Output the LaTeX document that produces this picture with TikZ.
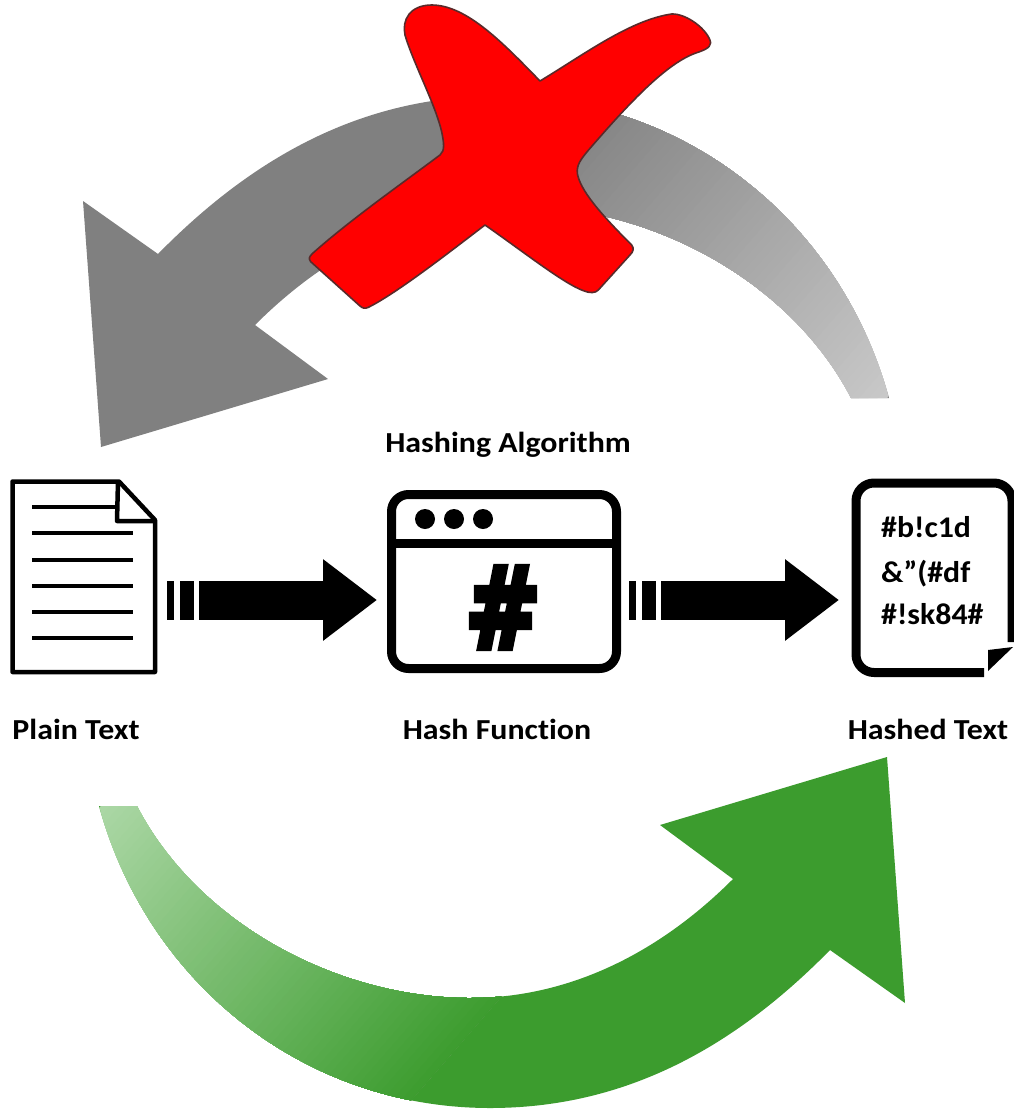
\documentclass[tikz,border=0pt]{standalone}
\usepackage{fontspec}
\setmainfont[Ligatures=NoCommon]{Carlito}
\newfontfamily\hashfont[BoldFeatures={FakeBold=6}]{DejaVu Sans}
\usetikzlibrary{arrows.meta}
\definecolor{grayfull}{HTML}{808080}
\definecolor{graylight}{HTML}{C8C8C8}
\definecolor{greenfull}{HTML}{3C9C2E}
\definecolor{greenlight}{HTML}{ABD7A5}
\definecolor{xedge}{HTML}{5A2A2A}
\newcommand{\curvedarrow}{
  (889,398) .. controls (840,220) and (683,96) .. (498,96)
  .. controls (370,96) and (260,150) .. (158,254)
  -- (83,201) -- (101,447) -- (328,379) -- (255,325)
  .. controls (330,250) and (420,206) .. (518,206)
  .. controls (650,206) and (790,280) .. (851,398)
  -- cycle}
\tikzset{
  labeltext/.style={font=\fontsize{29}{31}\selectfont\bfseries, anchor=base, inner sep=0pt, text=black, xscale=1.10},
  hashtext/.style={font=\fontsize{30}{32}\selectfont\bfseries, anchor=base west, inner sep=0pt, text=black, xscale=1.06},
  iconline/.style={draw=black, line join=round},
  blockarrow/.style={draw=black, line width=39pt, dash pattern=on 7pt off 6pt on 14pt off 5pt on 400pt,
    -{Triangle[length=54pt,width=78pt]}}
}
\begin{document}
\begin{tikzpicture}[x=1pt,y=-1pt]
\useasboundingbox (0,0) rectangle (1014,1111);
\fill[white] (0,0) rectangle (1014,1111);
% grey arrow: solid, then a fade laid in overlapping bands
\fill[grayfull] \curvedarrow;
\begin{scope}
  \clip \curvedarrow;
  \begin{scope}[shift={(888,397)},rotate=139]
    \foreach \i in {0,...,60} {
      \pgfmathsetmacro{\mixval}{100*\i/60}
      \fill[grayfull!\mixval!graylight] ({\i*7.1167},-700) rectangle (427,700);
    }
  \end{scope}
\end{scope}
% green arrow: the grey outline turned by 180 degrees
\begin{scope}[rotate around={180:(494,602)}]
  \fill[greenfull] \curvedarrow;
\end{scope}
\begin{scope}
  \clip[rotate around={180:(494,602)}] \curvedarrow;
  \begin{scope}[shift={(100,807)},rotate=-41]
    \foreach \i in {0,...,60} {
      \pgfmathsetmacro{\mixval}{100*\i/60}
      \fill[greenfull!\mixval!greenlight] ({\i*7.1167},-700) rectangle (427,700);
    }
  \end{scope}
\end{scope}
% red cross
\begin{scope}[x=0.33333pt,y=-0.33333pt,shift={(870,0)}]
\draw[fill=red, draw=xedge, line width=1.6pt, line join=round]
  (750,243) .. controls (880,165) and (1020,60) .. (1145,42)
  .. controls (1190,40) and (1255,90) .. (1262,128)
  .. controls (1262,145) and (1235,153) .. (1215,160)
  .. controls (1120,195) and (1000,330) .. (900,445)
  .. controls (870,480) and (860,495) .. (862,520)
  .. controls (870,570) and (930,640) .. (1025,735)
  .. controls (1033,745) and (1030,755) .. (1020,765)
  -- (925,870)
  .. controls (915,880) and (900,880) .. (880,872)
  .. controls (820,850) and (700,755) .. (585,675)
  .. controls (480,755) and (320,880) .. (235,922)
  .. controls (225,927) and (218,925) .. (210,918)
  -- (62,785)
  .. controls (55,775) and (58,770) .. (68,760)
  .. controls (180,660) and (330,555) .. (450,465)
  .. controls (465,452) and (462,430) .. (455,395)
  .. controls (435,310) and (370,190) .. (345,105)
  .. controls (335,60) and (360,15) .. (425,15)
  .. controls (530,15) and (640,130) .. (750,243)
  -- cycle;
\end{scope}
% plain document
\draw[iconline, line width=4.5pt] (119,481.5) -- (12.5,481.5) -- (12.5,672) -- (155,672) -- (155,520) -- cycle;
\draw[iconline, line width=4.5pt] (118,481.5) -- (117,521) -- (155,521);
\draw[iconline, line width=3.5pt] (32,507) -- (117,507);
\foreach \y in {533,560,586,612,638} \draw[iconline, line width=3.5pt] (32,\y) -- (133,\y);
% hash function window
\draw[iconline, line width=9pt, rounded corners=17pt] (391.5,494.5) rectangle (616.5,668.5);
\draw[iconline, line width=9pt] (391.5,543) -- (616.5,543);
\foreach \x in {425,454,483} \fill[black] (\x,519) circle[radius=10];
\node[inner sep=0pt, text=black, font=\hashfont\bfseries\fontsize{112}{112}\selectfont, xscale=0.8] (hashglyph) at (503,607.5) {\#};
% hashed document
\draw[iconline, line width=9pt, rounded corners=18pt] (984,672.5) -- (856,672.5) -- (856,483) -- (1012,483) -- (1012,642);
\fill[black] (988,650) -- (1013,647) -- (988,671) -- cycle;
\node[hashtext] (line1) at (881,537) {\#b!c1d};
\node[hashtext] (line2) at (881,582) {\&”(\#df};
\node[hashtext] (line3) at (881,624) {\#!sk84\#};
% block arrows
\coordinate (a1) at (167,600);
\coordinate (a2) at (377,600);
\coordinate (b1) at (629,600);
\coordinate (b2) at (839,600);
\draw[blockarrow] (a1) -- (a2);
\draw[blockarrow] (b1) -- (b2);
% labels
\node[labeltext] (algo) at (508,452) {Hashing Algorithm};
\node[labeltext] (plain) at (76,739) {Plain Text};
\node[labeltext] (func) at (497,739) {Hash Function};
\node[labeltext] (hashed) at (928,739) {Hashed Text};
\end{tikzpicture}
\end{document}
